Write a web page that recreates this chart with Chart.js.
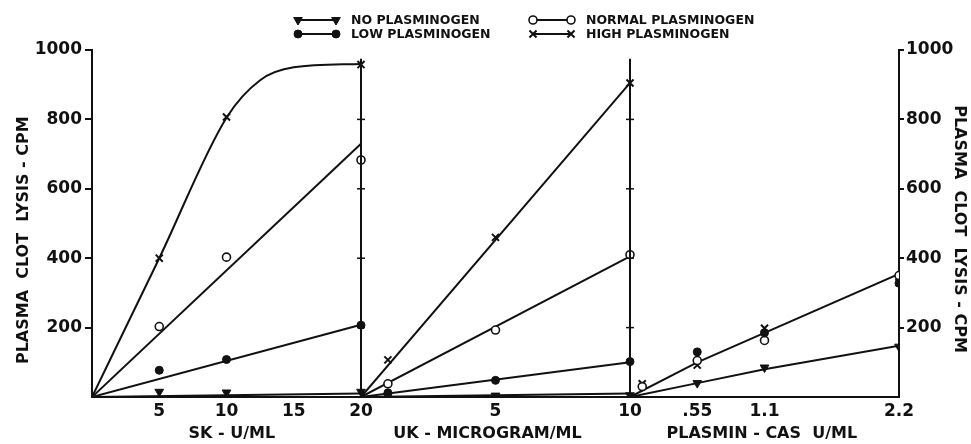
<!DOCTYPE html>
<html>
<head>
<meta charset="utf-8">
<script src="https://cdn.jsdelivr.net/npm/chart.js@4.4.0/dist/chart.umd.min.js"></script>
<style>
  html, body { margin: 0; padding: 0; background: #fff; }
  #wrap { width: 971px; height: 444px; position: relative; }
</style>
</head>
<body>
<div id="wrap"><canvas id="lysisChart"></canvas></div>
<script>
// --- three panels side by side, sharing one y axis ---
const panelTitles = ['SK - U/ML', 'UK - MICROGRAM/ML', 'PLASMIN - CAS  U/ML'];
const panelMax = [20, 10, 2.2];

// SK panel (U/ML)
const skX = [5, 10, 20];
const skNone = [15, 13, 15];
const skLow = [77, 108, 207];
const skNormal = [203, 403, 683];
const skHigh = [400, 807, 958];
const skFitX = [0, 20];
const skNoneFit = [0, 10];
const skLowFit = [0, 208];
const skNormalFit = [0, 730];
const skHighFitX = [0, 5, 10, 12.5, 15, 20];
const skHighFit = [0, 400, 805, 913, 950, 960];

// UK panel (microgram/ML)
const ukX = [1, 5, 10];
const ukNone = [3, 4, 5];
const ukLow = [12, 48, 102];
const ukNormal = [38, 193, 410];
const ukHigh = [107, 460, 905];
const ukFitX = [0, 10];
const ukNoneFit = [0, 10];
const ukLowFit = [0, 100];
const ukNormalFit = [0, 405];
const ukHighFit = [0, 905];

// Plasmin panel (CAS U/ML)
const plNoneX = [0.55, 1.1, 2.2];
const plNone = [40, 85, 145];
const plLowX = [0.55, 1.1, 2.2];
const plLow = [130, 185, 328];
const plNormalX = [0.1, 0.55, 1.1, 2.2];
const plNormal = [30, 105, 163, 350];
const plHighX = [0.1, 0.55, 1.1, 2.2];
const plHigh = [38, 92, 198, 330];
const plFitX = [0, 0.55, 1.1, 2.2];
const plUpperFit = [0, 100, 185, 355];
const plLowerFit = [0, 40, 80, 148];

// tick labels
const skTicks = [5, 10, 15, 20];
const ukTicks = [5, 10];
const plTicks = [0.55, 1.1, 2.2];
const plTickLabels = ['.55', '1.1', '2.2'];
const yTicks = [200, 400, 600, 800, 1000];

const seriesNames = ['NO PLASMINOGEN', 'LOW PLASMINOGEN', 'NORMAL PLASMINOGEN', 'HIGH PLASMINOGEN'];

// panel value -> position on the shared x scale (panel i spans i..i+1)
const toX = (panel, v) => panel + v / panelMax[panel];
const pts = (panel, xs, ys) => xs.map((x, i) => ({ x: toX(panel, x), y: ys[i] }));

const ink = '#111';
const font = 'DejaVu Sans';

const markerStyles = [
    { pointStyle: 'triangle', rotation: 180, radius: 5, borderWidth: 1, fill: ink },
    { pointStyle: 'circle', rotation: 0, radius: 4, borderWidth: 1, fill: ink },
    { pointStyle: 'circle', rotation: 0, radius: 4, borderWidth: 1.6, fill: '#fff' },
    { pointStyle: 'crossRot', rotation: 0, radius: 5, borderWidth: 2, fill: ink }
];

function markerSet(idx, data) {
    const s = markerStyles[idx];
    return {
        label: seriesNames[idx],
        data: data,
        showLine: false,
        pointStyle: s.pointStyle,
        rotation: s.rotation,
        pointRadius: s.radius,
        pointBorderWidth: s.borderWidth,
        pointBackgroundColor: s.fill,
        pointBorderColor: ink,
        order: 0
    };
}

function fitSet(data, curved) {
    return {
        label: 'fit',
        data: data,
        showLine: true,
        borderColor: ink,
        borderWidth: 2,
        pointRadius: 0,
        cubicInterpolationMode: curved ? 'monotone' : 'default',
        tension: 0,
        order: 1
    };
}

const datasets = [
    markerSet(0, [...pts(0, skX, skNone), ...pts(1, ukX, ukNone), ...pts(2, plNoneX, plNone)]),
    markerSet(1, [...pts(0, skX, skLow), ...pts(1, ukX, ukLow), ...pts(2, plLowX, plLow)]),
    markerSet(2, [...pts(0, skX, skNormal), ...pts(1, ukX, ukNormal), ...pts(2, plNormalX, plNormal)]),
    markerSet(3, [...pts(0, skX, skHigh), ...pts(1, ukX, ukHigh), ...pts(2, plHighX, plHigh)]),
    fitSet(pts(0, skFitX, skNoneFit)),
    fitSet(pts(0, skFitX, skLowFit)),
    fitSet(pts(0, skFitX, skNormalFit)),
    fitSet(pts(0, skHighFitX, skHighFit), true),
    fitSet(pts(1, ukFitX, ukNoneFit)),
    fitSet(pts(1, ukFitX, ukLowFit)),
    fitSet(pts(1, ukFitX, ukNormalFit)),
    fitSet(pts(1, ukFitX, ukHighFit)),
    fitSet(pts(2, plFitX, plUpperFit)),
    fitSet(pts(2, plFitX, plLowerFit))
];

const xTicks = [
    ...skTicks.map(v => ({ value: toX(0, v), label: String(v) })),
    ...ukTicks.map(v => ({ value: toX(1, v), label: String(v) })),
    ...plTicks.map((v, i) => ({ value: toX(2, v), label: plTickLabels[i] }))
];

// dividers between panels, legend and panel titles
const decorPlugin = {
    id: 'decor',
    afterDatasetsDraw(chart) {
        const ctx = chart.ctx;
        const x = chart.scales.x;
        const y = chart.scales.y;
        ctx.save();
        ctx.strokeStyle = ink;
        ctx.fillStyle = ink;

        // panel dividers with small ticks
        [1, 2].forEach(p => {
            const px = x.getPixelForValue(p);
            ctx.lineWidth = 2;
            ctx.beginPath();
            ctx.moveTo(px, y.getPixelForValue(0));
            ctx.lineTo(px, y.getPixelForValue(975));
            ctx.stroke();
            ctx.lineWidth = 1.5;
            [200, 400, 600, 800].forEach(v => {
                const py = y.getPixelForValue(v);
                ctx.beginPath();
                ctx.moveTo(px - 4, py);
                ctx.lineTo(px + 4, py);
                ctx.stroke();
            });
        });

        // panel axis titles
        ctx.font = 'bold 16px "' + font + '"';
        ctx.textAlign = 'center';
        ctx.textBaseline = 'middle';
        const titleCenters = [0.52, 0.47, 0.49];
        panelTitles.forEach((t, i) => {
            ctx.fillText(t, x.getPixelForValue(i + titleCenters[i]), 434);
        });

        // legend (two columns)
        const legendPos = [
            { x: 298, y: 20 }, { x: 298, y: 34 },
            { x: 533, y: 20 }, { x: 533, y: 34 }
        ];
        ctx.font = 'bold 12.5px "' + font + '"';
        ctx.textAlign = 'left';
        seriesNames.forEach((name, i) => {
            const lp = legendPos[i];
            const s = markerStyles[i];
            ctx.lineWidth = 2;
            ctx.strokeStyle = ink;
            ctx.beginPath();
            ctx.moveTo(lp.x, lp.y);
            ctx.lineTo(lp.x + 38, lp.y);
            ctx.stroke();
            [lp.x, lp.x + 38].forEach(mx => {
                ctx.fillStyle = s.fill;
                ctx.strokeStyle = ink;
                ctx.lineWidth = s.borderWidth;
                Chart.helpers.drawPoint(ctx, {
                    pointStyle: s.pointStyle,
                    rotation: s.rotation,
                    radius: s.radius,
                    borderWidth: s.borderWidth
                }, mx, lp.y);
            });
            ctx.fillStyle = ink;
            ctx.fillText(name, lp.x + 53, lp.y + 1);
        });
        ctx.restore();
    }
};

const yAxis = (position, width, titlePad, titleText) => ({
    type: 'linear',
    position: position,
    min: 0,
    max: 1000,
    afterBuildTicks: s => { s.ticks = yTicks.map(v => ({ value: v })); },
    afterFit: s => { s.width = width; },
    ticks: {
        color: ink,
        padding: position === 'left' ? 3 : 2,
        font: { family: font, size: 17, weight: 'bold' },
        callback: v => String(v)
    },
    grid: {
        drawOnChartArea: false,
        drawTicks: true,
        tickLength: position === 'left' ? 7 : 5,
        color: ink,
        lineWidth: 2
    },
    border: { display: true, color: ink, width: 2 },
    title: {
        display: true,
        text: titleText,
        color: ink,
        padding: { top: titlePad, bottom: 0 },
        font: { family: font, size: 16, weight: 'bold' }
    }
});

new Chart(document.getElementById('lysisChart'), {
    type: 'scatter',
    data: { datasets: datasets },
    options: {
        responsive: true,
        maintainAspectRatio: false,
        animation: false,
        layout: { padding: { top: 50, left: 0, right: 0, bottom: 0 } },
        plugins: {
            legend: { display: false },
            tooltip: { enabled: false }
        },
        scales: {
            x: {
                type: 'linear',
                position: 'bottom',
                min: 0,
                max: 3,
                afterBuildTicks: s => { s.ticks = xTicks.map(t => ({ value: t.value })); },
                afterFit: s => { s.height = 47; },
                ticks: {
                    color: ink,
                    padding: 4,
                    maxRotation: 0,
                    autoSkip: false,
                    font: { family: font, size: 17, weight: 'bold' },
                    callback: (v, i) => xTicks[i].label
                },
                grid: { display: false, drawTicks: false },
                border: { display: true, color: ink, width: 2 }
            },
            y: yAxis('left', 92, 14, 'PLASMA  CLOT  LYSIS - CPM      '),
            y2: yAxis('right', 72, 2, '  PLASMA  CLOT  LYSIS - CPM')
        }
    },
    plugins: [decorPlugin]
});
</script>
</body>
</html>
